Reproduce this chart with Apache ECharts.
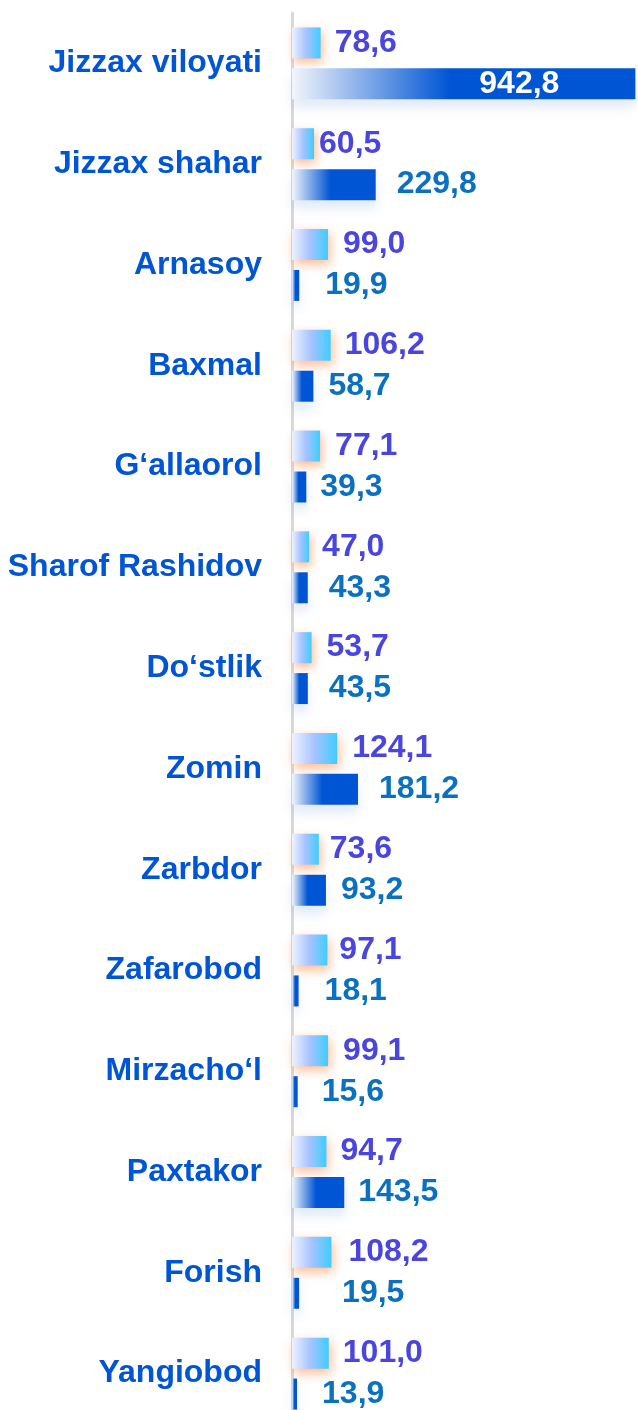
<!DOCTYPE html>
<html>
<head>
<meta charset="utf-8">
<script src="https://cdn.jsdelivr.net/npm/echarts@6/dist/echarts.min.js"></script>
<style>
html,body{margin:0;padding:0;background:#fff;overflow:hidden;}
#chart{width:638px;height:1424px;}
</style>
</head>
<body>
<div id="chart"></div>
<script>
const categories = ['Jizzax viloyati','Jizzax shahar','Arnasoy','Baxmal','G\u2018allaorol','Sharof Rashidov','Do\u2018stlik','Zomin','Zarbdor','Zafarobod','Mirzacho\u2018l','Paxtakor','Forish','Yangiobod'];
const seriesA = [78.6,60.5,99.0,106.2,77.1,47.0,53.7,124.1,73.6,97.1,99.1,94.7,108.2,101.0];
const seriesB = [942.8,229.8,19.9,58.7,39.3,43.3,43.5,181.2,93.2,18.1,15.6,143.5,19.5,13.9];

// label gaps (layout only)
const gapA = [14,5,15,14,15,13,15,15,11,12,15,14,17,14];
const gapB = [76,21,26,15,14,21,21,21,15,26,24,14,43,25];

const fmt = v => v.toFixed(1).replace('.', ',');
const FONT = '"Liberation Sans", Arial, sans-serif';

const chart = echarts.init(document.getElementById('chart'), null, {renderer:'canvas'});

const lightGrad = new echarts.graphic.LinearGradient(0,0,1,0,[
  {offset:0,color:'#EEF2FF'},{offset:0.5,color:'#A6C3FF'},{offset:1,color:'#3ECDFF'}]);
const darkGrad = new echarts.graphic.LinearGradient(0,0,1,0,[
  {offset:0,color:'#F2F5FB'},{offset:0.46,color:'#0055D4'},{offset:1,color:'#0055D4'}]);

const dataA = seriesA.map((v,i)=>({
  value:v,
  label:{distance:gapA[i]}
}));
const dataB = seriesB.map((v,i)=>{
  if(i===0){
    return {value:v,label:{position:'insideRight',distance:gapB[i],color:'#FFFFFF'}};
  }
  return {value:v,label:{distance:gapB[i]}};
});

chart.setOption({
  animation:false,
  grid:{left:292,top:13,bottom:0,right:0},
  xAxis:{type:'value',min:0,max:950,show:false},
  yAxis:{
    type:'category',data:categories,inverse:true,offset:2,
    axisLine:{show:true,lineStyle:{color:'#D9D9D9',width:3}},
    axisTick:{show:false},
    axisLabel:{margin:28,color:'#0055D4',fontSize:32,fontWeight:'bold',fontFamily:FONT}
  },
  series:[
    {
      type:'bar',data:dataA,barWidth:31,barGap:'32%',
      itemStyle:{color:lightGrad,shadowColor:'rgba(255,140,70,0.6)',shadowBlur:10,shadowOffsetX:2,shadowOffsetY:4},
      label:{show:true,position:'right',formatter:p=>fmt(p.value),color:'#4A45DE',fontSize:32,fontWeight:'bold',fontFamily:FONT}
    },
    {
      type:'bar',data:dataB,barWidth:31,barGap:'32%',
      itemStyle:{color:darkGrad,shadowColor:'rgba(0,80,200,0.12)',shadowBlur:12,shadowOffsetX:0,shadowOffsetY:8},
      label:{show:true,position:'right',formatter:p=>fmt(p.value),color:'#0A70BF',fontSize:32,fontWeight:'bold',fontFamily:FONT}
    }
  ]
});
</script>
</body>
</html>
